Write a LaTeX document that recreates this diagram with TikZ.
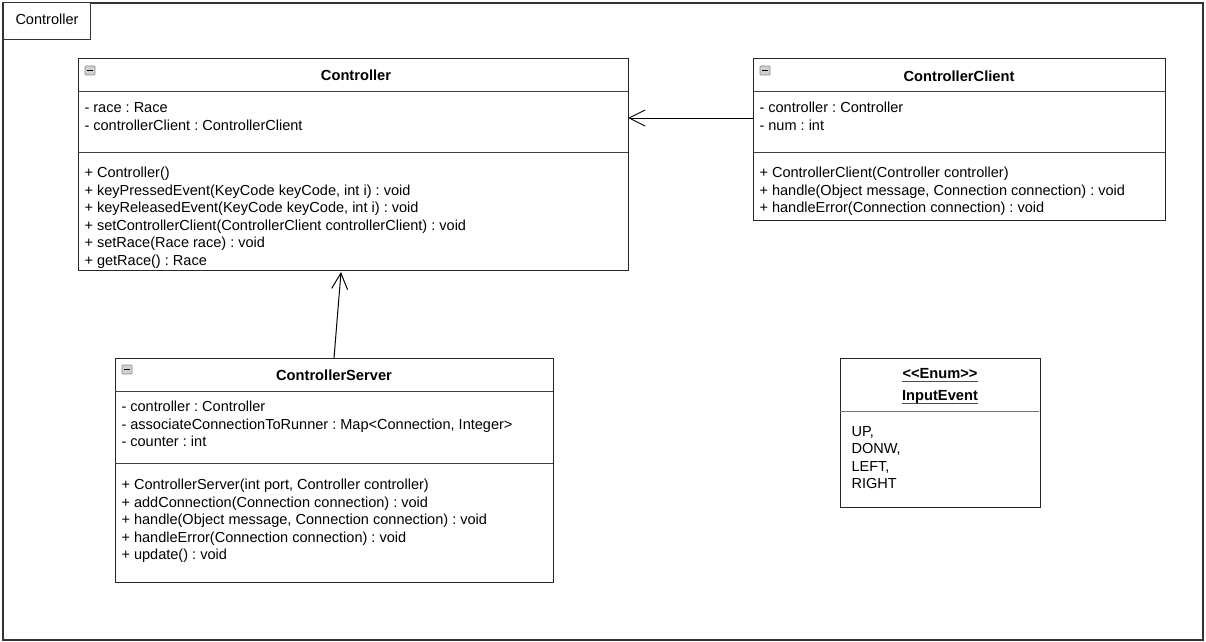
\documentclass[tikz,border=0pt]{standalone}
\usepackage{fontspec}
\setmainfont{Liberation Sans}
\usetikzlibrary{arrows.meta}
\frenchspacing
\begin{document}
\begin{tikzpicture}[x=0.75pt,y=-0.75pt,
  font=\fontsize{10.9}{13}\selectfont,
  line width=0.75pt,
  classbox/.style={draw=black!85, fill=white, anchor=north west, inner sep=0pt, outer sep=0pt},
  divider/.style={draw=black!75},
  member/.style={anchor=base west, inner sep=0pt},
  classtitle/.style={anchor=base, inner sep=0pt, font=\fontsize{11}{13}\selectfont\bfseries},
  assoc/.style={draw=black, -{Straight Barb[length=12pt,width=12pt,line width=0.75pt]}},
  foldicon/.style={draw=black!45, fill=black!18, rounded corners=0.6pt, line width=0.5pt}
]
\useasboundingbox (0,0) rectangle (1206,642);

% package frame with its name tab
\node[classbox, draw=black!80, line width=1pt, minimum width={1200*0.75pt}, minimum height={637*0.75pt}] (pkg) at (3,3) {};
\node[classbox, draw=black!80, minimum width={87*0.75pt}, minimum height={37*0.75pt}] (pkgtab) at (3,3) {};
\node[member] (pkgname) at (15,25) {Controller};

% class Controller
\node[classbox, minimum width={550*0.75pt}, minimum height={211*0.75pt}] (ctrl) at (78,59) {};
\draw[divider] (78,92) -- (628,92);
\draw[divider] (78,152) -- (628,152);
\draw[foldicon] (85,66) rectangle (95,75);
\draw[line width=1pt] (87,70.5) -- (93,70.5);
\node[classtitle] (ctrlname) at (356,80.5) {Controller};
\foreach \t [count=\i] in {{- race : Race},{- controllerClient : ControllerClient}}
  \node[member] (ctrla\i) at (84,{112.5+18*(\i-1)}) {\t};
\foreach \t [count=\i] in {{+ Controller()},
    {+ keyPressedEvent(KeyCode keyCode, int i) : void},
    {+ keyReleasedEvent(KeyCode keyCode, int i) : void},
    {+ setControllerClient(ControllerClient controllerClient) : void},
    {+ setRace(Race race) : void},
    {+ getRace() : Race}}
  \node[member] (ctrlm\i) at (84,{177.5+17.6*(\i-1)}) {\t};

% class ControllerClient
\node[classbox, minimum width={412*0.75pt}, minimum height={161*0.75pt}] (client) at (753,59) {};
\draw[divider] (753,92) -- (1165,92);
\draw[divider] (753,152) -- (1165,152);
\draw[foldicon] (760,66) rectangle (770,75);
\draw[line width=1pt] (762,70.5) -- (768,70.5);
\node[classtitle] (clientname) at (959,81.5) {ControllerClient};
\foreach \t [count=\i] in {{- controller : Controller},{- num : int}}
  \node[member] (clienta\i) at (759,{112.5+18*(\i-1)}) {\t};
\foreach \t [count=\i] in {{+ ControllerClient(Controller controller)},
    {+ handle(Object message, Connection connection) : void},
    {+ handleError(Connection connection) : void}}
  \node[member] (clientm\i) at (759,{177.5+17.6*(\i-1)}) {\t};

% class ControllerServer
\node[classbox, minimum width={438*0.75pt}, minimum height={224*0.75pt}] (srv) at (115,358) {};
\draw[divider] (115,391) -- (553,391);
\draw[divider] (115,463) -- (553,463);
\draw[foldicon] (122,365) rectangle (132,374);
\draw[line width=1pt] (124,369.5) -- (130,369.5);
\node[classtitle] (srvname) at (334,380.5) {ControllerServer};
\foreach \t [count=\i] in {{- controller : Controller},
    {- associateConnectionToRunner : Map<Connection, Integer>},
    {- counter : int}}
  \node[member] (srva\i) at (121,{411.5+17.6*(\i-1)}) {\t};
\foreach \t [count=\i] in {{+ ControllerServer(int port, Controller controller)},
    {+ addConnection(Connection connection) : void},
    {+ handle(Object message, Connection connection) : void},
    {+ handleError(Connection connection) : void},
    {+ update() : void}}
  \node[member] (srvm\i) at (121,{489.5+17.6*(\i-1)}) {\t};

% enumeration InputEvent
\node[classbox, minimum width={200*0.75pt}, minimum height={149*0.75pt}] (enum) at (840,358) {};
\draw[divider, draw=black!55] (840,411.5) -- (1039,411.5);
\node[classtitle] (enumst) at (940,378.5) {<{}<Enum>{}>};
\node[classtitle] (enumname) at (940,400.5) {InputEvent};
\draw[black!70] ([yshift=-2pt]enumst.base west) -- ([yshift=-2pt]enumst.base east);
\draw[black!70] ([yshift=-2pt]enumname.base west) -- ([yshift=-2pt]enumname.base east);
\foreach \t [count=\i] in {{UP,},{DONW,},{LEFT,},{RIGHT}}
  \node[member] (enumv\i) at (851,{436+17.6*(\i-1)}) {\t};

% associations
\draw[assoc] ([yshift=-44.25pt]client.north west) -- ([yshift=-44.25pt]ctrl.north east);
\draw[assoc] ([xshift=164.25pt]srv.north west) -- ([xshift=197.25pt,yshift=-1.5pt]ctrl.south west);
\end{tikzpicture}
\end{document}
